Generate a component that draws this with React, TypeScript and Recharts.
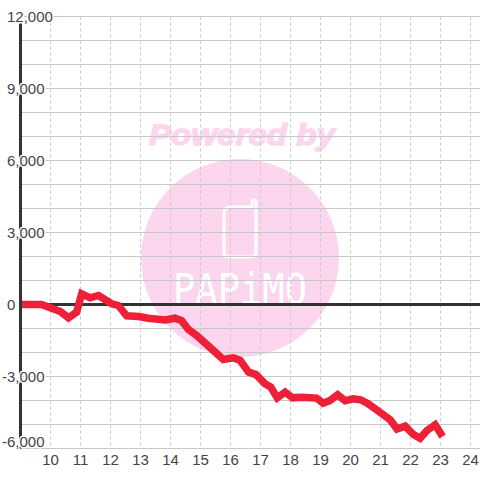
import React from 'react';
import { LineChart, Line, XAxis, YAxis, CartesianGrid, ReferenceLine } from 'recharts';

const hours = [9, 9.7, 10.33, 10.6, 10.87, 11.04, 11.32, 11.6, 12.04, 12.26, 12.54, 12.93, 13.26, 13.82, 14.15, 14.37, 14.6, 14.87, 15.37, 15.76, 16.1, 16.32, 16.6, 16.85, 17.15, 17.34, 17.56, 17.82, 18.07, 18.37, 18.87, 19.09, 19.32, 19.57, 19.82, 20.09, 20.34, 20.6, 20.98, 21.32, 21.55, 21.82, 22.1, 22.32, 22.55, 22.82, 23.07];
const balance = [0, 0, -290, -555, -320, 445, 280, 375, 30, -40, -470, -500, -570, -640, -570, -670, -1040, -1290, -1850, -2290, -2220, -2330, -2820, -2920, -3300, -3440, -3890, -3650, -3890, -3860, -3900, -4110, -4000, -3760, -4010, -3930, -3970, -4140, -4490, -4800, -5190, -5070, -5420, -5570, -5250, -5010, -5500];
const xTicks = [10, 11, 12, 13, 14, 15, 16, 17, 18, 19, 20, 21, 22, 23, 24];
const yTicks = [-6000, -3000, 0, 3000, 6000, 9000, 12000];
const yGrid = [-6000, -5000, -4000, -3000, -2000, -1000, 0, 1000, 2000, 3000, 4000, 5000, 6000, 7000, 8000, 9000, 10000, 11000, 12000];

const chartData = hours.map((h, i) => ({ h, v: balance[i] }));

const FONT = '"Liberation Sans", Arial, sans-serif';
const TEXT = '#444444';
const PINK = '#fcd6ee';

const YTick = (props: any) => {
  const value = props.payload.value;
  const startX = value < 0 ? 2 : 7;
  const y = value === -6000 ? props.y - 7 : props.y;
  return (
    <text
      x={startX}
      y={y}
      dy={5}
      textAnchor="start"
      fontSize={15}
      fontFamily={FONT}
      fill={TEXT}
      stroke="#ffffff"
      strokeWidth={3}
      style={{ paintOrder: 'stroke' }}
    >
      {value.toLocaleString('en-US')}
    </text>
  );
};

const Watermark = () => (
  <svg width={480} height={480} style={{ position: 'absolute', left: 0, top: 0 }}>
    <text x={149} y={144.5} fontSize={29} fontWeight="bold" fontStyle="italic" fontFamily={FONT} fill={PINK} stroke={PINK} strokeWidth={1.4} textLength={186} lengthAdjust="spacingAndGlyphs">
      Powered by
    </text>
    <circle cx={240} cy={258} r={99} fill={PINK} />
    <path d="M231 207 H252 V202 Q252 200 254 200 Q256 200 256 202 V252 Q256 257 251 257 H229 Q224 257 224 252 V214 Q224 207 231 207 Z" fill="none" stroke="#ffffff" strokeWidth={3} />
    <text x={173} y={304} fontSize={42} fontFamily='"DejaVu Sans Mono", monospace' fill="#ffffff" textLength={134} lengthAdjust="spacingAndGlyphs">
      PAPiMO
    </text>
  </svg>
);

export default function App() {
  return (
    <div style={{ position: 'absolute', left: 0, top: 0, width: 480, height: 480, background: '#ffffff' }}>
      <Watermark />
      <div style={{ position: 'absolute', left: 0, top: 0 }}>
        <LineChart width={480} height={480} data={chartData} margin={{ top: 16.5, right: 0, bottom: 0, left: 0 }}>
          <CartesianGrid horizontal={false} stroke="#c8c8c8" strokeDasharray="3 3" verticalValues={xTicks} />
          <CartesianGrid vertical={false} stroke="#c8c8c8" horizontalValues={yGrid} />
          <XAxis
            dataKey="h"
            type="number"
            domain={[9, 24.3167]}
            ticks={xTicks}
            interval={0}
            height={31.5}
            axisLine={false}
            tickLine={false}
            tick={{ fontSize: 15, fontFamily: FONT, fill: TEXT }}
            tickMargin={0}
          />
          <YAxis
            type="number"
            domain={[-6000, 12000]}
            ticks={yTicks}
            interval={0}
            width={20.5}
            axisLine={{ stroke: '#333333', strokeWidth: 3 }}
            tickLine={false}
            tick={<YTick />}
          />
          <ReferenceLine y={0} stroke="#333333" strokeWidth={3} />
          <Line dataKey="v" stroke="#ee2038" strokeWidth={7.5} dot={false} type="linear" isAnimationActive={false} />
        </LineChart>
      </div>
    </div>
  );
}
